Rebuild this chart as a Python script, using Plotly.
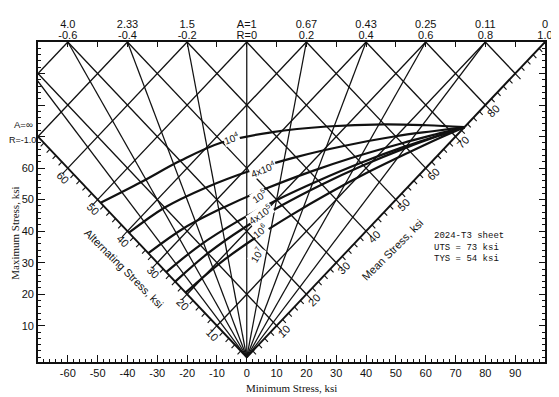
import plotly.graph_objects as go

# ---------------- data ----------------
# stress-ratio rays (R = Smin/Smax) drawn from the origin to the top border
R_RATIOS = [-0.8, -0.6, -0.4, -0.2, 0.0, 0.2, 0.4, 0.6, 0.8]
TOP_MAX_STRESS = 100
TOP_TICK_MIN = [-60, -50, -40, -30, -20, -10, 0, 10, 20, 30, 40, 50, 60, 70, 80, 90, 100]
TOP_R_TEXT = ["-0.6", "", "-0.4", "", "-0.2", "", "R=0", "", "0.2", "", "0.4", "",
              "0.6", "", "0.8", "", "1.0"]
TOP_A_TEXT = ["4.0", "", "2.33", "", "1.5", "", "A=1", "", "0.67", "", "0.43", "",
              "0.25", "", "0.11", "", "0"]

# grid of constant alternating and constant mean stress (ksi)
ALT_GRID = [10, 20, 30, 40, 50, 60, 70, 80]
MEAN_GRID = [10, 20, 30, 40, 50, 60, 70, 80, 90]
ALT_AXIS_END = 70
MEAN_AXIS_END = 100
ALT_AXIS_LABELS = [10, 20, 30, 40, 50, 60]
MEAN_AXIS_LABELS = [10, 20, 30, 40, 50, 60, 70, 80]

X_MAJOR = [-60, -50, -40, -30, -20, -10, 0, 10, 20, 30, 40, 50, 60, 70, 80, 90]
X_MAJOR_TEXT = ["-60", "-50", "-40", "-30", "-20", "-10", "0", "10", "20", "30",
                "40", "50", "60", "70", "80", "90"]
Y_MAJOR = [10, 20, 30, 40, 50, 60, 70, 80, 90]
Y_MAJOR_TEXT = ["10", "20", "30", "40", "50", "60", "", "", ""]
MINOR_STEP = 2

# constant-life curves: mean stress and alternating stress (ksi)
CURVE_MEAN = [0, 10, 20, 30, 40, 50, 60, 67, 73]
ALT_1E4 = [49.0, 45.5, 42.3, 38.2, 31.4, 23.2, 13.9, 6.6, 0.0]
ALT_4E4 = [39.5, 37.5, 33.8, 29.1, 23.5, 17.1, 10.1, 4.7, 0.0]
ALT_1E5 = [33.0, 31.0, 27.6, 23.5, 18.8, 13.6, 7.9, 3.7, 0.0]
ALT_4E5 = [27.0, 25.6, 23.1, 19.9, 16.0, 11.7, 6.9, 3.2, 0.0]
ALT_1E6 = [24.0, 23.0, 21.0, 18.2, 14.8, 10.9, 6.5, 3.1, 0.0]
ALT_1E7 = [20.5, 19.5, 17.6, 15.1, 12.2, 8.9, 5.2, 2.5, 0.0]
CURVES = [ALT_1E4, ALT_4E4, ALT_1E5, ALT_4E5, ALT_1E6, ALT_1E7]

CURVE_LABELS = ["10<sup>4</sup>", "4x10<sup>4</sup>", "10<sup>5</sup>",
                "4x10<sup>5</sup>", "10<sup>6</sup>", "10<sup>7</sup>"]
LABEL_MIN = [-5.0, 5.6, 4.3, 4.6, 4.3, 3.3]
LABEL_MAX = [69.4, 59.8, 51.0, 45.6, 40.2, 32.5]
LABEL_ANGLE = [-20, -22, -35, -35, -40, -60]

# ---------------- helpers ----------------
def segments(pairs):
    xs, ys = [], []
    for (x0, y0), (x1, y1) in pairs:
        xs += [x0, x1, None]
        ys += [y0, y1, None]
    return xs, ys

BLACK = "#111111"
SANS = "Liberation Sans"
SERIF = "Liberation Serif"

fig = go.Figure()

# lattice of constant alternating / constant mean stress lines
lat = [((-a, a), (TOP_MAX_STRESS - 2 * a, TOP_MAX_STRESS)) for a in ALT_GRID]
lat += [((m, m), (2 * m - TOP_MAX_STRESS, TOP_MAX_STRESS)) for m in MEAN_GRID]
lx, ly = segments(lat)
fig.add_trace(go.Scatter(x=lx, y=ly, mode="lines", xaxis="x2", yaxis="y",
                         line=dict(color=BLACK, width=1.35), hoverinfo="skip"))

# R rays
rays = [((0, 0), (r * TOP_MAX_STRESS, TOP_MAX_STRESS)) for r in R_RATIOS]
rx, ry = segments(rays)
fig.add_trace(go.Scatter(x=rx, y=ry, mode="lines", xaxis="x4", yaxis="y2",
                         line=dict(color=BLACK, width=1.25), hoverinfo="skip"))

# alternating (R=-1) and mean (R=1) axes
ax_x, ax_y = segments([((0, 0), (-ALT_AXIS_END, ALT_AXIS_END)),
                       ((0, 0), (MEAN_AXIS_END, MEAN_AXIS_END))])
fig.add_trace(go.Scatter(x=ax_x, y=ax_y, mode="lines", xaxis="x", yaxis="y4",
                         line=dict(color=BLACK, width=1.9), hoverinfo="skip"))

# ticks on the diagonal axes
tk = []
for a in range(MINOR_STEP, ALT_AXIS_END, MINOR_STEP):
    L = 1.8 if a % 10 == 0 else 1.1
    tk.append(((-a, a), (-a - L, a - L)))
for m in range(MINOR_STEP, MEAN_AXIS_END, MINOR_STEP):
    L = 1.8 if m % 10 == 0 else 1.1
    tk.append(((m, m), (m + L, m - L)))
tx, ty = segments(tk)
fig.add_trace(go.Scatter(x=tx, y=ty, mode="lines", xaxis="x3", yaxis="y3",
                         line=dict(color=BLACK, width=1.1), hoverinfo="skip"))

# constant-life curves
for alt in CURVES:
    smin = [m - a for m, a in zip(CURVE_MEAN, alt)]
    smax = [m + a for m, a in zip(CURVE_MEAN, alt)]
    fig.add_trace(go.Scatter(x=smin, y=smax, mode="lines",
                             line=dict(color=BLACK, width=2.2, shape="spline", smoothing=1.0),
                             hoverinfo="skip"))

ann = []
for t, x, y, ang in zip(CURVE_LABELS, LABEL_MIN, LABEL_MAX, LABEL_ANGLE):
    ann.append(dict(x=x, y=y, xref="x", yref="y", text=t, showarrow=False,
                    textangle=ang, bgcolor="white", borderpad=0,
                    font=dict(family=SANS, size=10, color=BLACK)))

# diagonal axis labels
for a in ALT_AXIS_LABELS:
    ann.append(dict(x=-a - 1.5, y=a - 3.0, xref="x", yref="y", text=str(a),
                    showarrow=False, textangle=45,
                    font=dict(family=SANS, size=11, color=BLACK)))
for m in MEAN_AXIS_LABELS:
    ann.append(dict(x=m + 2.6, y=m - 1.8, xref="x", yref="y", text=str(m),
                    showarrow=False, textangle=-45,
                    font=dict(family=SANS, size=11, color=BLACK)))

ann.append(dict(x=-41.3, y=28.3, xref="x", yref="y", text="Alternating Stress, ksi",
                showarrow=False, textangle=45,
                font=dict(family=SANS, size=11, color=BLACK)))
ann.append(dict(x=48.8, y=34.0, xref="x", yref="y", text="Mean Stress, ksi",
                showarrow=False, textangle=-45,
                font=dict(family=SANS, size=11, color=BLACK)))

ann.append(dict(x=0.777, y=0.359, xref="paper", yref="paper",
                text="2024-T3 sheet<br>UTS = 73 ksi<br>TYS = 54 ksi",
                showarrow=False, xanchor="left", yanchor="middle", align="left",
                font=dict(family="Liberation Mono", size=9, color=BLACK)))

ann.append(dict(x=0, y=73.8, xref="paper", yref="y", text="A=∞",
                showarrow=False, xanchor="right", xshift=-3,
                font=dict(family=SANS, size=9.5, color=BLACK)))
ann.append(dict(x=0, y=69.0, xref="paper", yref="y", text="R=-1.0",
                showarrow=False, xanchor="right", xshift=0,
                font=dict(family=SANS, size=9, color=BLACK)))

ann.append(dict(x=0.5, y=-0.082, xref="paper", yref="paper", text="Minimum Stress, ksi",
                showarrow=False, yanchor="middle",
                font=dict(family=SERIF, size=11, color=BLACK)))
ann.append(dict(x=-0.046, y=0.403, xref="paper", yref="paper", text="Maximum Stress, ksi",
                showarrow=False, textangle=-90, xanchor="center", yanchor="middle",
                font=dict(family=SERIF, size=11, color=BLACK)))

XR = [-70, 100]
YR = [-1.5, 100]
tickfont = dict(family=SANS, size=11, color=BLACK)

x_minor = list(range(XR[0], XR[1] + 1, MINOR_STEP))
x_minor_text = [X_MAJOR_TEXT[X_MAJOR.index(v)] if v in X_MAJOR else "" for v in x_minor]
y_minor = list(range(0, YR[1] + 1, MINOR_STEP))
y_minor_text = [Y_MAJOR_TEXT[Y_MAJOR.index(v)] if v in Y_MAJOR else "" for v in y_minor]

common = dict(showgrid=False, zeroline=False)
# the page body has an 8 px margin, so the figure is 8 px smaller than the window
fig.update_layout(
    width=551, height=389,
    margin=dict(l=30, r=6, t=34, b=35),
    paper_bgcolor="white", plot_bgcolor="white",
    showlegend=False,
    annotations=ann,
    xaxis=dict(range=XR, tickmode="array", tickvals=x_minor, ticktext=x_minor_text,
               ticks="inside", ticklen=3, tickwidth=1, tickcolor=BLACK,
               showline=True, linewidth=1.8, linecolor=BLACK, mirror=True,
               tickfont=tickfont, **common),
    xaxis3=dict(range=XR, overlaying="x", side="bottom", tickmode="array",
                tickvals=X_MAJOR, showticklabels=False,
                ticks="inside", ticklen=7, tickwidth=1.3, tickcolor=BLACK,
                showline=False, **common),
    xaxis2=dict(range=XR, overlaying="x", side="top", tickmode="array",
                tickvals=TOP_TICK_MIN, ticktext=TOP_R_TEXT,
                ticks="inside", ticklen=5, tickwidth=1.2, tickcolor=BLACK,
                showline=False, ticklabelstandoff=0,
                tickfont=dict(family=SANS, size=11, color=BLACK), **common),
    xaxis4=dict(range=XR, overlaying="x", side="top", tickmode="array",
                tickvals=TOP_TICK_MIN, ticktext=TOP_A_TEXT,
                ticks="", showline=False, ticklabelstandoff=11,
                tickfont=dict(family=SANS, size=11, color=BLACK), **common),
    yaxis=dict(range=YR, tickmode="array", tickvals=y_minor, ticktext=y_minor_text,
               ticks="inside", ticklen=3, tickwidth=1, tickcolor=BLACK,
               showline=True, linewidth=1.8, linecolor=BLACK, mirror=True,
               tickfont=tickfont, **common),
    yaxis3=dict(range=YR, overlaying="y", side="left", tickmode="array",
                tickvals=Y_MAJOR, showticklabels=False,
                ticks="inside", ticklen=7, tickwidth=1.3, tickcolor=BLACK,
                showline=False, **common),
    yaxis2=dict(range=YR, overlaying="y", side="right", tickmode="array",
                tickvals=y_minor, showticklabels=False,
                ticks="inside", ticklen=3, tickwidth=1, tickcolor=BLACK,
                showline=False, **common),
    yaxis4=dict(range=YR, overlaying="y", side="right", tickmode="array",
                tickvals=Y_MAJOR, showticklabels=False,
                ticks="inside", ticklen=6, tickwidth=1.3, tickcolor=BLACK,
                showline=False, **common),
)

fig.write_html("out.html")
